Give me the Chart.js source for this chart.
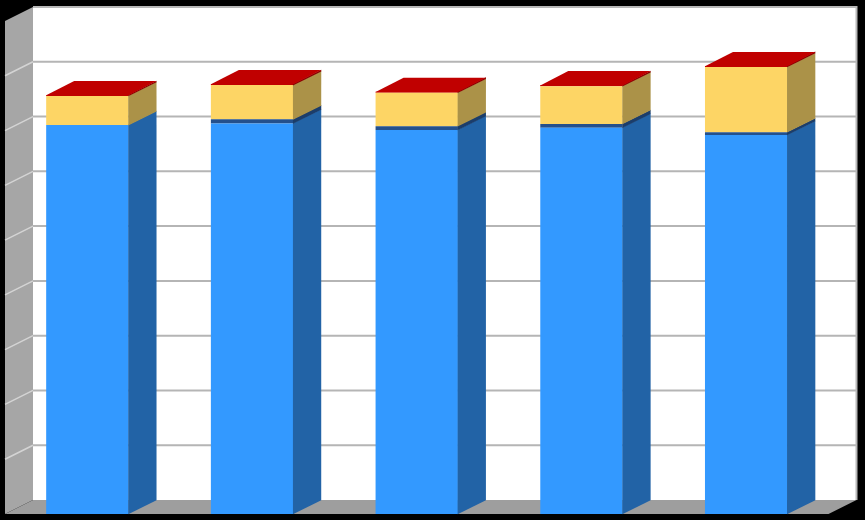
<!DOCTYPE html>
<html>
<head>
<meta charset="utf-8">
<script src="https://cdn.jsdelivr.net/npm/chart.js@4/dist/chart.umd.min.js"></script>
<style>
  html, body { margin: 0; padding: 0; background: #000; }
  #wrap { width: 865px; height: 520px; }
</style>
</head>
<body>
<div id="wrap"><canvas id="c" width="865" height="520"></canvas></div>
<script>
// ---- data ----
const categories = ['1', '2', '3', '4', '5'];
const blueValues = [71.0, 71.3, 70.1, 70.5, 69.2];
const navyValues = [0.0, 0.75, 0.7, 0.7, 0.5];
const yellowValues = [5.3, 6.25, 6.1, 6.9, 11.9];
const redValues = [0.2, 0.2, 0.2, 0.2, 0.2];
const yTicks = [0, 10, 20, 30, 40, 50, 60, 70, 80, 90];

// ---- style ----
const DX = 28, DY = 14;

const wallsPlugin = {
  id: 'walls',
  beforeDraw(chart) {
    const ctx = chart.ctx;
    const a = chart.chartArea;
    const ys = chart.scales.y;
    ctx.save();
    ctx.fillStyle = '#000';
    ctx.fillRect(0, 0, chart.width, chart.height);
    // back wall
    ctx.fillStyle = '#fff';
    ctx.fillRect(a.left + DX, a.top - DY, a.right - a.left, a.bottom - a.top);
    // left wall
    ctx.fillStyle = '#a6a6a6';
    ctx.beginPath();
    ctx.moveTo(a.left, a.top);
    ctx.lineTo(a.left + DX, a.top - DY);
    ctx.lineTo(a.left + DX, a.bottom - DY);
    ctx.lineTo(a.left, a.bottom);
    ctx.closePath();
    ctx.fill();
    // floor
    ctx.fillStyle = '#9e9e9e';
    ctx.beginPath();
    ctx.moveTo(a.left, a.bottom);
    ctx.lineTo(a.left + DX, a.bottom - DY);
    ctx.lineTo(a.right + DX, a.bottom - DY);
    ctx.lineTo(a.right, a.bottom);
    ctx.closePath();
    ctx.fill();
    // gridlines
    yTicks.forEach(v => {
      if (v <= ys.min || v >= ys.max) return;
      const py = ys.getPixelForValue(v);
      ctx.strokeStyle = '#b5b5b5';
      ctx.lineWidth = 2;
      ctx.beginPath();
      ctx.moveTo(a.left + DX, py - DY);
      ctx.lineTo(a.right + DX, py - DY);
      ctx.stroke();
      ctx.strokeStyle = '#d4d4d4';
      ctx.lineWidth = 1.5;
      ctx.beginPath();
      ctx.moveTo(a.left, py);
      ctx.lineTo(a.left + DX, py - DY);
      ctx.stroke();
    });
    // back wall border (top & right)
    ctx.strokeStyle = '#b8b8b8';
    ctx.lineWidth = 2;
    ctx.beginPath();
    ctx.moveTo(a.left + DX, a.top - DY);
    ctx.lineTo(a.right + DX, a.top - DY);
    ctx.lineTo(a.right + DX, a.bottom - DY);
    ctx.stroke();
    ctx.restore();
  },
  afterDatasetsDraw(chart) {
    const ctx = chart.ctx;
    const n = chart.data.labels.length;
    ctx.save();
    for (let j = 0; j < n; j++) {
      let topInfo = null;
      chart.data.datasets.forEach((ds, i) => {
        const meta = chart.getDatasetMeta(i);
        const el = meta.data[j];
        if (!el || !(ds.data[j] > 0)) return;
        const p = el.getProps(['x', 'y', 'base', 'width'], true);
        const xl = p.x - p.width / 2, xr = p.x + p.width / 2;
        ctx.fillStyle = ds.sideColor;
        ctx.beginPath();
        ctx.moveTo(xr - 0.3, p.y - 0.3);
        ctx.lineTo(xr + DX, p.y - DY - 0.3);
        ctx.lineTo(xr + DX, p.base - DY + 0.3);
        ctx.lineTo(xr - 0.3, p.base + 0.3);
        ctx.closePath();
        ctx.fill();
        topInfo = { xl, xr, y: p.y, color: ds.topColor };
      });
      if (topInfo) {
        ctx.fillStyle = topInfo.color;
        ctx.beginPath();
        ctx.moveTo(topInfo.xl, topInfo.y + 0.3);
        ctx.lineTo(topInfo.xl + DX, topInfo.y - DY);
        ctx.lineTo(topInfo.xr + DX, topInfo.y - DY);
        ctx.lineTo(topInfo.xr, topInfo.y + 0.3);
        ctx.closePath();
        ctx.fill();
      }
    }
    ctx.restore();
  }
};

new Chart(document.getElementById('c'), {
  type: 'bar',
  data: {
    labels: categories,
    datasets: [
      { label: 'A', data: blueValues, backgroundColor: '#3399ff', sideColor: '#2263a6', topColor: '#5cb0ff' },
      { label: 'B', data: navyValues, backgroundColor: '#24508c', sideColor: '#1b3d6b', topColor: '#2d60a5' },
      { label: 'C', data: yellowValues, backgroundColor: '#fdd565', sideColor: '#ab9248', topColor: '#ffe38a' },
      { label: 'D', data: redValues, backgroundColor: '#c00000', sideColor: '#8a0000', topColor: '#c00000' }
    ]
  },
  options: {
    responsive: false,
    devicePixelRatio: 1,
    animation: false,
    events: [],
    layout: { padding: { left: 5, right: 36.5, top: 21, bottom: 6 } },
    datasets: { bar: { barPercentage: 0.5, categoryPercentage: 1.0, borderWidth: 0 } },
    plugins: { legend: { display: false }, tooltip: { enabled: false }, title: { display: false } },
    scales: {
      x: { display: false, stacked: true, offset: true },
      y: { display: false, stacked: true, min: 0, max: 90, ticks: { stepSize: 10 } }
    }
  },
  plugins: [wallsPlugin]
});
</script>
</body>
</html>
